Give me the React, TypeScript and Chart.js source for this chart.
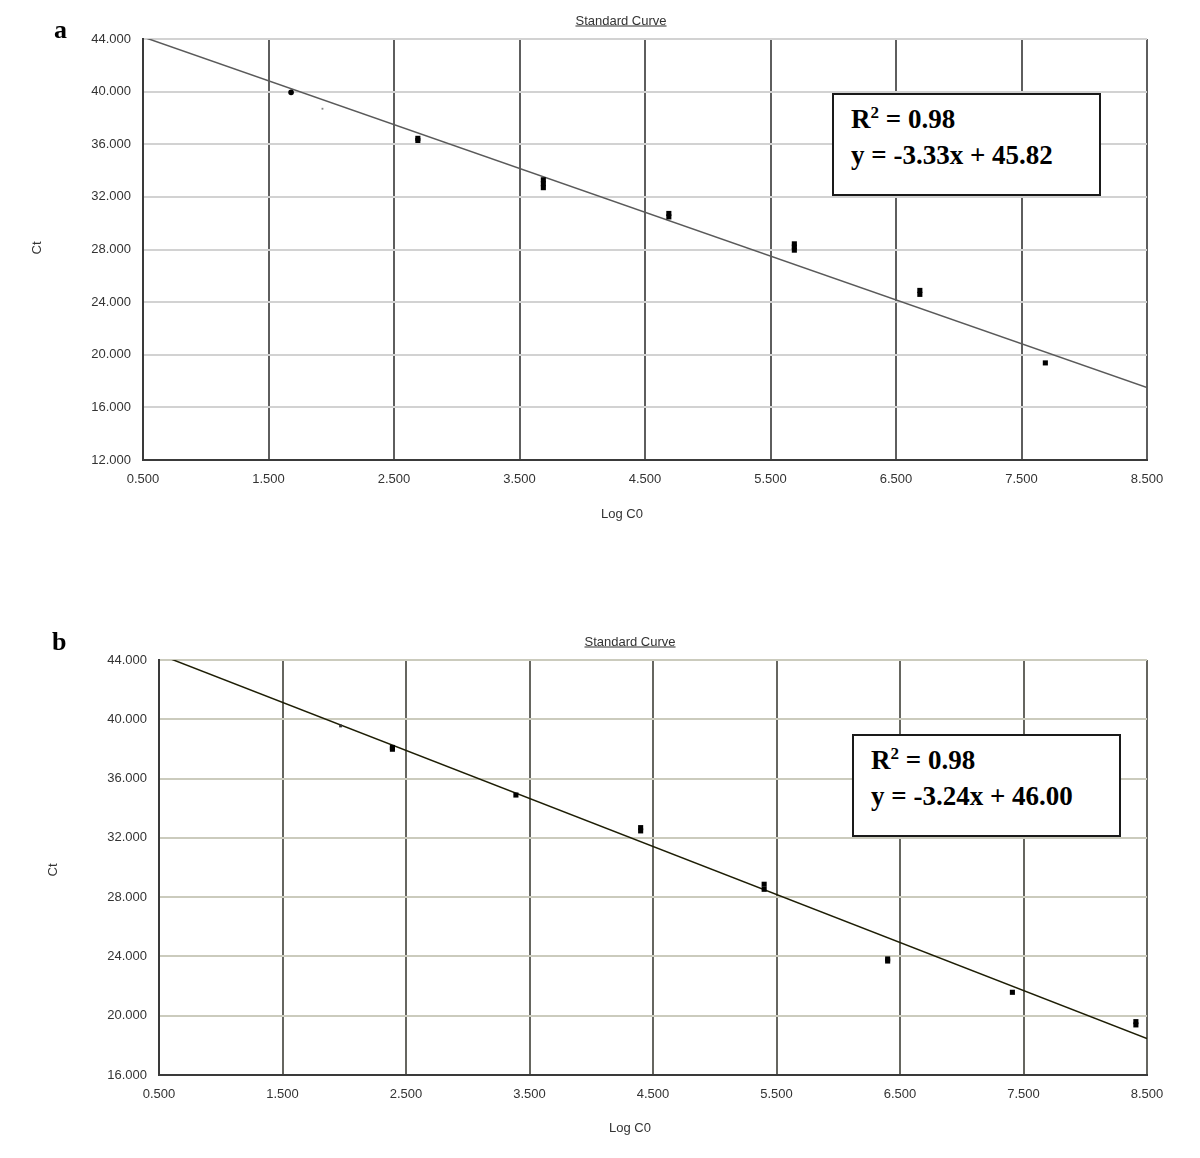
import React, { useEffect, useRef } from 'react';
import { Chart, registerables } from 'chart.js';

Chart.register(...registerables);

// ---------- data ----------
const X_TICKS = [0.5, 1.5, 2.5, 3.5, 4.5, 5.5, 6.5, 7.5, 8.5];
const A_Y_TICKS = [12, 16, 20, 24, 28, 32, 36, 40, 44];
const B_Y_TICKS = [16, 20, 24, 28, 32, 36, 40, 44];

const A_LOG_C0 = [1.68, 1.93, 2.69, 2.69, 3.69, 3.69, 3.69, 4.69, 4.69, 5.69, 5.69, 5.69, 6.69, 6.69, 7.69];
const A_CT = [39.94, 38.7, 36.45, 36.29, 33.3, 33.0, 32.7, 30.74, 30.48, 28.43, 28.19, 27.95, 24.89, 24.59, 19.38];
const A_SLOPE = -3.33;
const A_INTERCEPT = 45.82;
const A_R2 = '0.98';

const B_LOG_C0 = [1.97, 2.39, 2.39, 3.39, 4.4, 4.4, 5.4, 5.4, 6.4, 6.4, 7.41, 8.41, 8.41];
const B_CT = [39.55, 38.1, 37.98, 34.89, 32.69, 32.47, 28.87, 28.53, 23.83, 23.69, 21.58, 19.6, 19.38];
const B_SLOPE = -3.24;
const B_INTERCEPT = 46.0;
const B_R2 = '0.98';

const TITLE = 'Standard Curve';
const X_TITLE = 'Log C0';
const Y_TITLE = 'Ct';

// ---------- config ----------
type Opts = {
  xs: number[];
  ys: number[];
  slope: number;
  intercept: number;
  yTicks: number[];
  yWidth: number;
  xHeight: number;
  padTop: number;
  padRight: number;
  lineColor: string;
  vGrid: string;
  hGrid: string;
  special: 'a' | 'b';
};

function makeConfig(o: Opts): any {
  const x0 = X_TICKS[0];
  const x1 = X_TICKS[X_TICKS.length - 1];
  const fit = [x0, x1].map((x) => ({ x, y: o.slope * x + o.intercept }));
  const pts = o.xs.map((x, i) => ({ x, y: o.ys[i] }));
  const tickFont = { family: 'Liberation Sans, Arial, sans-serif', size: 13 };
  const isA = o.special === 'a';
  return {
    type: 'scatter',
    data: {
      datasets: [
        {
          label: 'fit',
          data: fit,
          showLine: true,
          borderColor: o.lineColor,
          borderWidth: 1.5,
          pointRadius: 0,
          order: 1,
        },
        {
          label: 'Ct',
          data: pts,
          showLine: false,
          order: 0,
          pointStyle: (c: any) => (isA && c.dataIndex === 0 ? 'circle' : 'rect'),
          pointRadius: (c: any) => {
            if (isA && c.dataIndex === 0) return 2.8;
            if (isA && c.dataIndex === 1) return 1.3;
            if (!isA && c.dataIndex === 0) return 2;
            return 3.6;
          },
          backgroundColor: (c: any) =>
            isA && c.dataIndex === 1 ? '#888' : !isA && c.dataIndex === 0 ? '#333' : '#000',
          borderWidth: 0,
        },
      ],
    },
    options: {
      responsive: false,
      animation: false,
      layout: { padding: { top: o.padTop, right: o.padRight, left: 0, bottom: 0 } },
      plugins: { legend: { display: false }, tooltip: { enabled: false }, title: { display: false } },
      scales: {
        x: {
          type: 'linear',
          min: x0,
          max: x1,
          afterBuildTicks: (s: any) => {
            s.ticks = X_TICKS.map((v) => ({ value: v }));
          },
          afterFit: (s: any) => {
            s.height = o.xHeight;
          },
          ticks: {
            autoSkip: false,
            maxRotation: 0,
            padding: 12,
            color: '#333',
            font: tickFont,
            callback: (v: any) => Number(v).toFixed(3),
          },
          grid: { color: o.vGrid, lineWidth: 2, drawTicks: false },
          border: { color: '#3a3a3a', width: 2 },
        },
        y: {
          type: 'linear',
          min: o.yTicks[0],
          max: o.yTicks[o.yTicks.length - 1],
          afterBuildTicks: (s: any) => {
            s.ticks = o.yTicks.map((v) => ({ value: v }));
          },
          afterFit: (s: any) => {
            s.width = o.yWidth;
          },
          ticks: {
            autoSkip: false,
            padding: 12,
            color: '#333',
            font: tickFont,
            callback: (v: any) => Number(v).toFixed(3),
          },
          grid: { color: o.hGrid, lineWidth: 2, drawTicks: false },
          border: { color: '#3a3a3a', width: 2 },
        },
      },
    },
  };
}

function ChartCanvas({ top, height, config }: { top: number; height: number; config: any }) {
  const ref = useRef<HTMLCanvasElement>(null);
  useEffect(() => {
    const c = new Chart(ref.current as HTMLCanvasElement, config);
    return () => c.destroy();
  }, []);
  return (
    <canvas
      ref={ref}
      width={1200}
      height={height}
      style={{ position: 'absolute', left: 0, top, width: 1200, height, display: 'block' }}
    />
  );
}

const sans = 'Liberation Sans, Arial, sans-serif';
const serif = 'Liberation Serif, "Times New Roman", serif';

function Label({ cx, cy, text, rotate, underline }: { cx: number; cy: number; text: string; rotate?: boolean; underline?: boolean }) {
  return (
    <div
      style={{
        position: 'absolute',
        left: cx,
        top: cy,
        transform: `translate(-50%, -50%)${rotate ? ' rotate(-90deg)' : ''}`,
        fontFamily: sans,
        fontSize: 13,
        color: '#333',
        whiteSpace: 'nowrap',
        textDecoration: underline ? 'underline' : 'none',
        lineHeight: '15px',
      }}
    >
      {text}
    </div>
  );
}

function EqBox({ left, top, r2, slope, intercept }: { left: number; top: number; r2: string; slope: number; intercept: number }) {
  const sign = intercept >= 0 ? '+' : '-';
  return (
    <div
      style={{
        position: 'absolute',
        left,
        top,
        width: 265,
        height: 99,
        border: '2px solid #1a1a1a',
        background: '#fff',
        boxSizing: 'content-box',
        fontFamily: serif,
        fontWeight: 'bold',
        fontSize: 27,
        lineHeight: '32px',
        color: '#000',
      }}
    >
      <div style={{ position: 'absolute', left: 17, top: 8, whiteSpace: 'nowrap' }}>
        <div>
          R<span style={{ fontSize: 17, position: 'relative', top: -10 }}>2</span> = {r2}
        </div>
        <div>
          y = {slope.toFixed(2)}x {sign} {Math.abs(intercept).toFixed(2)}
        </div>
      </div>
    </div>
  );
}

function Letter({ left, top, text }: { left: number; top: number; text: string }) {
  return (
    <div
      style={{
        position: 'absolute',
        left,
        top,
        fontFamily: serif,
        fontWeight: 'bold',
        fontSize: 26,
        lineHeight: '26px',
        color: '#000',
      }}
    >
      {text}
    </div>
  );
}

const configA = makeConfig({
  xs: A_LOG_C0,
  ys: A_CT,
  slope: A_SLOPE,
  intercept: A_INTERCEPT,
  yTicks: A_Y_TICKS,
  yWidth: 143,
  xHeight: 85,
  padTop: 39,
  padRight: 53,
  lineColor: '#5a5a5a',
  vGrid: '#5e5e5e',
  hGrid: '#d2d2d2',
  special: 'a',
});

const configB = makeConfig({
  xs: B_LOG_C0,
  ys: B_CT,
  slope: B_SLOPE,
  intercept: B_INTERCEPT,
  yTicks: B_Y_TICKS,
  yWidth: 159,
  xHeight: 83,
  padTop: 80,
  padRight: 53,
  lineColor: '#1e1e05',
  vGrid: '#666660',
  hGrid: '#cbcbbd',
  special: 'b',
});

export default function App() {
  return (
    <div style={{ position: 'absolute', left: 0, top: 0, width: 1200, height: 1158, background: '#fff', overflow: 'hidden' }}>
      <ChartCanvas top={0} height={545} config={configA} />
      <ChartCanvas top={580} height={578} config={configB} />

      <Letter left={54} top={17} text="a" />
      <Label cx={621} cy={20} text={TITLE} underline />
      <Label cx={36} cy={248} text={Y_TITLE} rotate />
      <Label cx={622} cy={513} text={X_TITLE} />
      <EqBox left={832} top={93} r2={A_R2} slope={A_SLOPE} intercept={A_INTERCEPT} />

      <Letter left={52} top={629} text="b" />
      <Label cx={630} cy={641} text={TITLE} underline />
      <Label cx={52} cy={870} text={Y_TITLE} rotate />
      <Label cx={630} cy={1127} text={X_TITLE} />
      <EqBox left={852} top={734} r2={B_R2} slope={B_SLOPE} intercept={B_INTERCEPT} />
    </div>
  );
}
